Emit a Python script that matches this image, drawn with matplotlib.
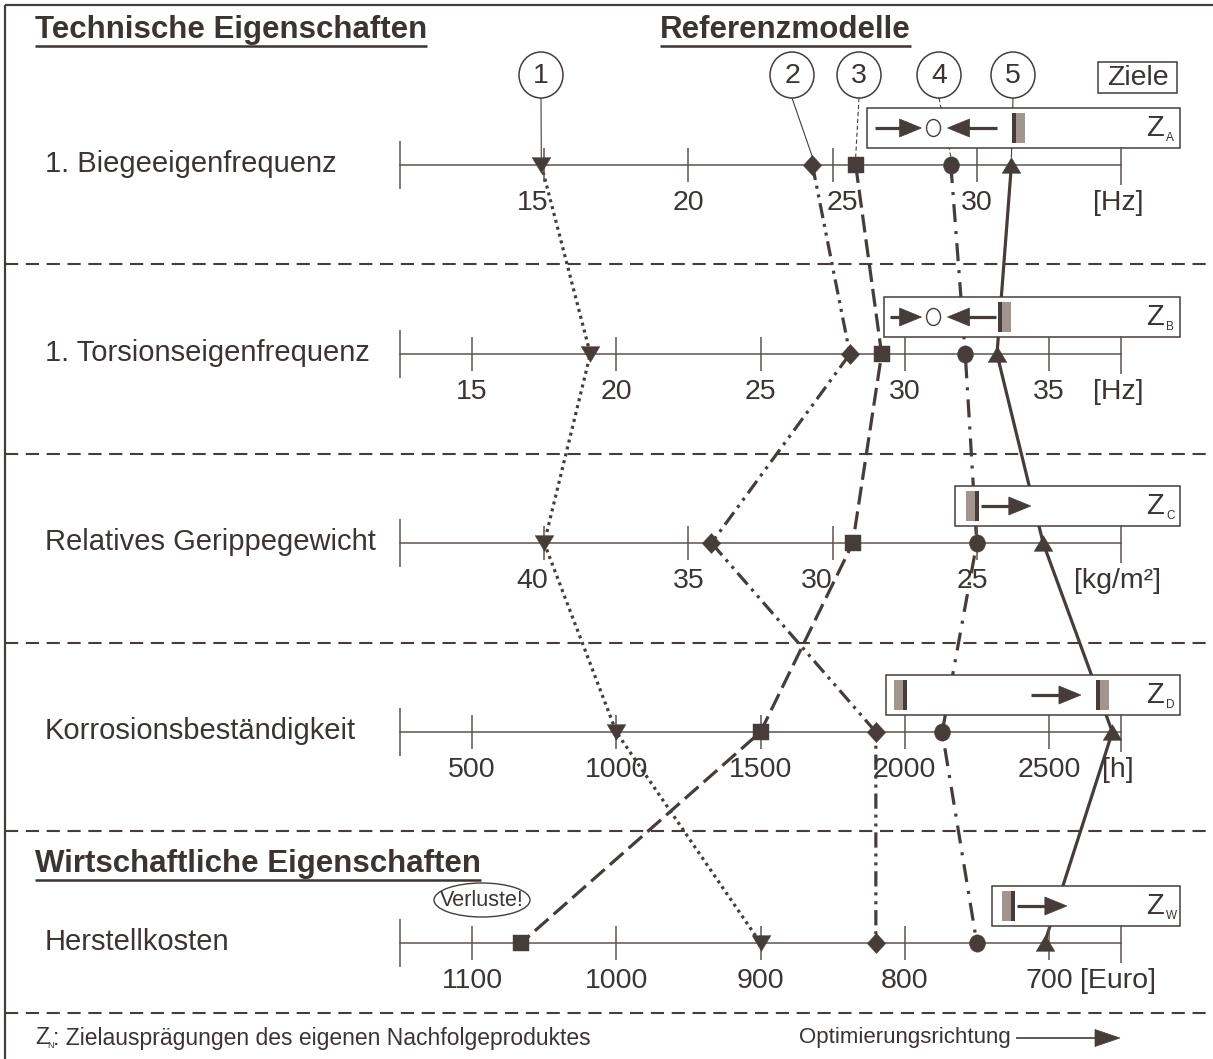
import matplotlib
matplotlib.use("Agg")
import matplotlib.pyplot as plt
from matplotlib.patches import Rectangle, Ellipse, Polygon
from matplotlib.path import Path
import numpy as np

plt.rcParams["font.family"] = ["Liberation Sans", "DejaVu Sans"]
plt.rcParams["lines.scale_dashes"] = False

# ---------------------------------------------------------------- data
ROW_LABELS = ["1. Biegeeigenfrequenz", "1. Torsionseigenfrequenz",
              "Relatives Gerippegewicht", "Korrosionsbeständigkeit",
              "Herstellkosten"]
AXIS_LIMITS = [(10, 35), (12.5, 37.5), (45, 20), (250, 2750), (1150, 650)]
AXIS_TICKS = [[15, 20, 25, 30],
              [15, 20, 25, 30, 35],
              [40, 35, 30, 25],
              [500, 1000, 1500, 2000, 2500],
              [1100, 1000, 900, 800, 700]]
UNIT_LABELS = ["[Hz]", "[Hz]", "[kg/m²]", "[h]", "[Euro]"]

MODEL_1 = [14.9, 19.1, 40.0, 1000, 900]
MODEL_2 = [24.3, 28.1, 34.2, 1900, 820]
MODEL_3 = [25.8, 29.2, 29.3, 1500, 1066]
MODEL_4 = [29.1, 32.1, 25.0, 2130, 750]
MODEL_5 = [31.2, 33.2, 22.7, 2720, 703]
MODEL_NAMES = ["1", "2", "3", "4", "5"]

GOAL_NAMES = ["A", "B", "C", "D", "W"]
GOAL_TARGETS = [28.5, 31.0, None, None, None]
GOAL_BOUNDS = [[(31.3, +1)], [(33.3, +1)], [(25.0, -1)],
               [(2000, -1), (2670, +1)], [(725, -1)]]

# ---------------------------------------------------------------- layout
W, H = 1213, 1059
AXIS_X0, AXIS_X1 = 400, 1121
AXIS_Y = [165, 354, 543, 732, 943]
SEPARATOR_Y = [264, 454, 643, 831, 1013]
BOX_LEFT = [867, 884, 955, 886, 992]
BOX_RIGHT = 1180
MODEL_BUBBLE_X = [541, 792, 859, 939, 1013]
BUBBLE_Y = 75
TICK_LABEL_SHIFT = {(0, 15): -12, (0, 25): 10, (2, 40): -12, (2, 30): -16,
                    (2, 25): -4}

INK = "#3b3432"
LINE = "#463d3b"
AXIS_COL = "#5c5350"
GRAY = "#a2958f"

fig = plt.figure(figsize=(W / 100, H / 100), dpi=100)
fig.patch.set_facecolor("white")
canvas = fig.add_axes([0, 0, 1, 1], zorder=0)
canvas.set_xlim(0, W)
canvas.set_ylim(H, 0)
canvas.axis("off")

row_axes = []
for i in range(5):
    ax = fig.add_axes([AXIS_X0 / W, 1 - (AXIS_Y[i] + 100) / H,
                       (AXIS_X1 - AXIS_X0) / W, 200 / H], zorder=2)
    ax.set_xlim(*AXIS_LIMITS[i])
    ax.set_ylim(-100, 100)
    ax.axis("off")
    row_axes.append(ax)


def to_canvas(ax, v, y=0):
    """Position of value v on a row axis, in canvas pixel coordinates."""
    return canvas.transData.inverted().transform(ax.transData.transform((v, y)))


# ---------------------------------------------------------------- frame
canvas.plot([5, 5], [5, H], color=LINE, lw=1.6, solid_capstyle="butt")
canvas.plot([5, W], [5, 5], color=LINE, lw=1.6, solid_capstyle="butt")
for ys in SEPARATOR_Y:
    canvas.plot([5, W], [ys, ys], color=LINE, lw=1.5,
                linestyle=(0, (9.5, 5.5)))

# ---------------------------------------------------------------- headers
heads = []
heads.append(canvas.text(35, 30, "Technische Eigenschaften", fontsize=22.5,
                         fontweight="bold", color=INK, va="center", ha="left"))
heads.append(canvas.text(660, 30, "Referenzmodelle", fontsize=22.5,
                         fontweight="bold", color=INK, va="center", ha="left"))
heads.append(canvas.text(35, 864, "Wirtschaftliche Eigenschaften", fontsize=22.5,
                         fontweight="bold", color=INK, va="center", ha="left"))
fig.canvas.draw()
renderer = fig.canvas.get_renderer()
for t in heads:
    bb = t.get_window_extent(renderer)
    (x0, y0), (x1, y1) = canvas.transData.inverted().transform(
        [[bb.x0, bb.y0], [bb.x1, bb.y1]])
    yu = max(y0, y1) + 1
    canvas.plot([x0, x1], [yu, yu], color=INK, lw=1.8, solid_capstyle="butt")

# ---------------------------------------------------------------- rows
for i, ax in enumerate(row_axes):
    lo, hi = AXIS_LIMITS[i]
    canvas.text(45, AXIS_Y[i] - 1, ROW_LABELS[i], fontsize=21, color=INK,
                va="center", ha="left")
    ax.plot([lo, hi], [0, 0], color=AXIS_COL, lw=1.1, clip_on=False, zorder=3)
    ax.vlines([lo], -24, 24, color=AXIS_COL, lw=1.1, clip_on=False, zorder=3)
    ax.vlines([hi], -20, 18, color=AXIS_COL, lw=1.1, clip_on=False, zorder=3)
    ax.vlines(AXIS_TICKS[i], -17, 17, color=AXIS_COL, lw=1.1, clip_on=False,
              zorder=3)
    for t in AXIS_TICKS[i]:
        xt = to_canvas(ax, t)[0] + TICK_LABEL_SHIFT.get((i, t), 0)
        canvas.text(xt, AXIS_Y[i] + 38, f"{t}", fontsize=20.5, color=INK,
                    ha="center", va="center", zorder=6)
    canvas.text(AXIS_X1 - 3, AXIS_Y[i] + 38, UNIT_LABELS[i], fontsize=20.5,
                color=INK, ha="center", va="center", zorder=6)

# ---------------------------------------------------------------- goal boxes


def h_arrow(x0, x1, y, lw=2.3, head=22, half=9, z=5):
    d = np.sign(x1 - x0)
    canvas.plot([x0, x1 - d * head * 0.7], [y, y], color=LINE, lw=lw,
                solid_capstyle="butt", zorder=z)
    canvas.add_patch(Polygon([[x1, y], [x1 - d * head, y - half],
                              [x1 - d * head, y + half]], closed=True,
                             fc=LINE, ec=LINE, lw=0.5, zorder=z))


for i, ax in enumerate(row_axes):
    yc = AXIS_Y[i] - 37
    canvas.add_patch(Rectangle((BOX_LEFT[i], AXIS_Y[i] - 57),
                               BOX_RIGHT - BOX_LEFT[i], 40, fc="white",
                               ec=LINE, lw=1.1, zorder=3))
    canvas.text(1164, yc, "Z", fontsize=21, color=INK, ha="right",
                va="center", zorder=5)
    canvas.text(1166, yc + 10, GOAL_NAMES[i], fontsize=8.5, color=INK,
                ha="left", va="center", zorder=5)
    bar_px = []
    for value, side in GOAL_BOUNDS[i]:
        xb = to_canvas(ax, value)[0]
        bar_px.append(xb)
        canvas.add_patch(Rectangle((xb - 2, yc - 15), 4, 30, fc=LINE,
                                   ec="none", zorder=5))
        gx = xb + 2 if side > 0 else xb - 11
        canvas.add_patch(Rectangle((gx, yc - 15), 9, 30, fc=GRAY,
                                   ec="none", zorder=5))
    target = GOAL_TARGETS[i]
    if target is not None:
        xt = to_canvas(ax, target)[0]
        canvas.add_patch(Ellipse((xt, yc), 14, 17, fc="white", ec=LINE,
                                 lw=1.0, zorder=5))
        h_arrow(max(BOX_LEFT[i] + 6, xt - 59), xt - 12, yc)
        h_arrow(min(bar_px[0] - 4, xt + 63), xt + 14, yc)
    elif len(bar_px) == 2:
        h_arrow(bar_px[1] - 67, bar_px[1] - 17, yc)
    else:
        h_arrow(bar_px[0] + 4, bar_px[0] + 54, yc)

# ---------------------------------------------------------------- models


def marker_path(verts):
    verts = np.asarray(verts, dtype=float)
    return Path(np.vstack([verts, verts[:1]]),
                [Path.MOVETO] + [Path.LINETO] * (len(verts) - 1)
                + [Path.CLOSEPOLY])


circ = Path.unit_circle()
ELLIPSE_MARK = Path(circ.vertices * [0.92, 1.0], circ.codes)

models = [MODEL_1, MODEL_2, MODEL_3, MODEL_4, MODEL_5]
styles = [
    dict(marker=marker_path([(-1, 0.84), (1, 0.84), (0, -0.84)]), ms=13.5,
         ls=(0, (2.2, 2.9))),
    dict(marker=marker_path([(0, 1), (0.92, 0), (0, -1), (-0.92, 0)]), ms=14.5,
         ls=(0, (11, 4.2, 2.2, 4.2, 2.2, 4.2))),
    dict(marker=marker_path([(-0.9, -1), (0.9, -1), (0.9, 1), (-0.9, 1)]),
         ms=12.0, ls=(0, (13, 5))),
    dict(marker=ELLIPSE_MARK, ms=12.5, ls=(0, (13, 6.5, 2.2, 6.5))),
    dict(marker=marker_path([(-1, -0.84), (1, -0.84), (0, 0.84)]), ms=13.5,
         ls="-"),
]

for values, st in zip(models, styles):
    pts = np.array([to_canvas(ax, v) for ax, v in zip(row_axes, values)])
    canvas.plot(pts[:, 0], pts[:, 1], color=LINE, lw=2.3, linestyle=st["ls"],
                dash_capstyle="butt", solid_capstyle="butt", zorder=2)
    for ax, v in zip(row_axes, values):
        ax.plot([v], [0], marker=st["marker"], ms=st["ms"], color=LINE,
                mec=LINE, mew=0.3, ls="none", clip_on=False, zorder=6)

# numbered bubbles and their leader lines
leader_styles = ["-", "-", (0, (3, 2)), (0, (3, 2)), "-"]
for k, (bx, values) in enumerate(zip(MODEL_BUBBLE_X, models)):
    canvas.add_patch(Ellipse((bx, BUBBLE_Y), 44, 46, fc="white", ec=LINE,
                             lw=1.1, zorder=4))
    canvas.text(bx, BUBBLE_Y + 1, MODEL_NAMES[k], fontsize=20.5, color=INK,
                ha="center", va="center", zorder=5)
    mx = to_canvas(row_axes[0], values[0])[0]
    canvas.plot([bx, mx], [BUBBLE_Y + 23, AXIS_Y[0] - 8], color=LINE, lw=0.8,
                linestyle=leader_styles[k], zorder=2)

# goals caption
canvas.add_patch(Rectangle((1098, 62), 79, 31, fc="white", ec=LINE, lw=1.1,
                           zorder=4))
canvas.text(1137.5, 78, "Ziele", fontsize=20.5, color=INK, ha="center",
            va="center", zorder=5)

# loss remark
canvas.add_patch(Ellipse((482, 900), 96, 34, fc="white", ec=LINE, lw=1.0,
                         zorder=4))
canvas.text(482, 900, "Verluste!", fontsize=15.5, color=INK, ha="center",
            va="center", zorder=5)

# legend line
canvas.text(35, 1038, "Z", fontsize=16.5, color=INK, ha="left", va="center")
canvas.text(47, 1045, "N", fontsize=6.5, color=INK, ha="left", va="center")
canvas.text(53, 1038, ": Zielausprägungen des eigenen Nachfolgeproduktes",
            fontsize=16.5, color=INK, ha="left", va="center")
canvas.text(1011, 1038, "Optimierungsrichtung", fontsize=16, color=INK,
            ha="right", va="center")
h_arrow(1016, 1120, 1038, lw=1.2, head=25, half=8.5)

fig.savefig("out.png", dpi=100, facecolor="white")
